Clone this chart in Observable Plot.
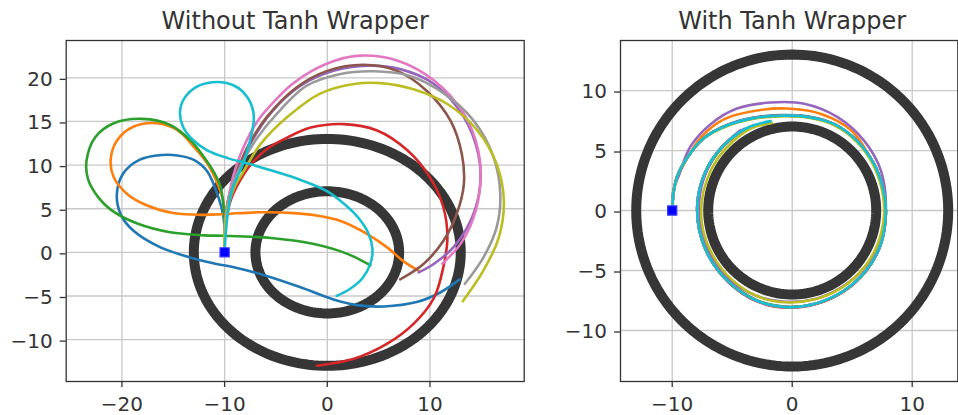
<!DOCTYPE html>
<html><head><meta charset="utf-8">
<script src="https://cdn.jsdelivr.net/npm/d3@7"></script>
<script src="https://cdn.jsdelivr.net/npm/@observablehq/plot@0.6"></script>
<style>
body{margin:0;background:#fff;}
#wrap{position:relative;width:958px;height:415px;overflow:hidden;background:#fff;}
#left{position:absolute;left:0;top:0;}
#right{position:absolute;left:530px;top:0;}
</style></head><body><div id="wrap"><div id="left"></div><div id="right"></div></div>
<script>
// ---- data ----
const titles = ["Without Tanh Wrapper", "With Tanh Wrapper"];
const palette = ["#1f77b4","#ff7f0e","#2ca02c","#d62728","#9467bd","#8c564b","#e377c2","#9a9a9a","#bcbd22","#17becf"];
const obstacleCenter = [0, 0];
const obstacleRadii = [7, 13];
const startPoint = [[-10, 0]];
const leftXTicks = [-20, -10, 0, 10];
const leftYTicks = [-10, -5, 0, 5, 10, 15, 20];
const rightXTicks = [-10, 0, 10];
const rightYTicks = [-10, -5, 0, 5, 10];
const leftXDomain = [-25.43, 19.18];
const leftYDomain = [-14.8, 24.28];
const rightXDomain = [-14.31, 13.8];
const rightYDomain = [-14.25, 14.17];

// Without tanh wrapper
const lBlue = [[-10,0],[-10,2],[-10.1,4],[-10.6,6.3],[-11.7,9.3],[-13,10.6],[-14.6,11.1],[-16.1,11.15],[-18.3,10.6],[-19.9,9],[-20.5,6.6],[-20.1,4.3],[-18.9,2.5],[-16.3,0.6],[-13,-0.7],[-10.9,-1.3],[-9.1,-1.7],[-5.9,-2.7],[-2.6,-4.0],[0.6,-5.4],[2.9,-6.05],[5.5,-6.2],[8.7,-5.7],[11,-4.6],[12.9,-3.1]];
const lOrange = [[-10,0],[-10,2.2],[-10,4.4],[-10.2,6.2],[-10.7,7.9],[-11.7,10.2],[-13,12.1],[-14.6,14],[-16.6,14.8],[-18.9,14.4],[-20.5,12.8],[-21.1,10.6],[-20.8,8.6],[-19.5,6.7],[-17.6,5.4],[-15,4.5],[-12,4.3],[-10,4.4],[-6.5,4.6],[-3.2,4.5],[-1.2,4.25],[1.3,3.6],[3.9,2.1],[5.8,0.6],[7.4,-1],[8.9,-2.1]];
const lGreen = [[-10,0],[-10,2.2],[-10.05,4.6],[-10.4,7.5],[-11,9.1],[-12,10.9],[-13.3,12.8],[-15.3,14.6],[-18,15.3],[-20.8,14.8],[-22.6,13.2],[-23.45,10.5],[-23.3,8.4],[-22.3,6.3],[-21.1,4.9],[-18.5,3.3],[-15.3,2.3],[-12,1.95],[-10,1.9],[-5.5,1.65],[-2.2,1.15],[1.1,0.2],[2.8,-0.6],[4.2,-1.5]];
const lRed = [[-10,0],[-10,2],[-9.8,4],[-9.4,6],[-8.8,7.6],[-7.5,10],[-5.8,11.9],[-4,13.1],[-1.6,14.3],[1.6,14.7],[4.8,14],[7.8,11.7],[10,8.6],[11.3,5.2],[11.7,1.7],[11.3,-1.7],[10.4,-5.2],[8.4,-8.2],[5.8,-10.5],[2.6,-12.2],[-1,-13.0]];
const lPurple = [[-10,0],[-10,2.5],[-9.8,5],[-9.4,7.2],[-8.8,9],[-7.6,12.2],[-5.55,15.9],[-2.6,19.1],[0.6,20.8],[3.9,21.4],[7.1,21],[10.4,19.3],[13.3,15.5],[14.7,11.3],[14.9,7.8],[14.1,4],[12.3,0.6],[10.4,-1.3],[8.9,-2.3]];
const lBrown = [[-10,0],[-10,2.5],[-9.8,5],[-9.4,7.2],[-9,8.6],[-7.8,12],[-5.9,15.5],[-3,18.9],[0,20.8],[3.5,21.5],[6.8,20.8],[9.7,18.5],[12,15.1],[13.1,11.3],[13.3,7.8],[12.6,4.4],[11.3,1.3],[9.4,-1.3],[7.1,-3.1]];
const lPink = [[-10,0],[-10,2.5],[-9.8,5],[-9.5,7],[-9.1,9],[-8.1,12.2],[-6.7,15.2],[-5,17.5],[-3.5,19.2],[-1.5,20.8],[0.8,22],[3.2,22.55],[6.8,22],[10.4,19.7],[13.3,15.9],[14.7,11.7],[14.9,7.8],[14.25,4],[13,1],[11.2,-1.3]];
const lGray = [[-10,0],[-10,2.5],[-9.8,5],[-9.3,7.5],[-8.4,10],[-6.9,13],[-4.9,15.9],[-2,19.1],[1.3,20.45],[4.5,20.75],[7.8,20.3],[11,18.5],[14.25,15.1],[16.2,10.9],[16.85,6.7],[16.5,2.9],[15.2,-0.6],[13.4,-3.6]];
const lOlive = [[-10,0],[-10,2.5],[-9.7,5],[-9.1,7.3],[-8.1,9.4],[-6.5,12.4],[-3.9,15.5],[-0.7,18.2],[2.6,19.3],[5.2,19.4],[8.4,18.7],[11.7,17],[14.6,14],[16.5,10.1],[17.2,5.9],[16.7,1.7],[15.2,-2.1],[13.2,-5.6]];
const lCyan = [[-10,0],[-9.9,2],[-9.7,4.4],[-9.3,7],[-8.1,10.5],[-7.4,13.4],[-7.15,15.3],[-7.3,16.6],[-7.8,17.8],[-8.6,18.8],[-9.8,19.4],[-11.2,19.5],[-12.7,19],[-13.9,17.7],[-14.35,16.1],[-14.05,14.4],[-13.1,12.9],[-11.7,11.7],[-9.7,10.8],[-7.8,10.2],[-5.5,9.4],[-2.6,8.3],[0,7],[1.6,5.6],[3,4],[4,2.2],[4.4,0.4],[4.2,-1.3],[3.4,-3],[2.2,-4.2],[0.9,-5.0]];

// With tanh wrapper
const rBlue = [[-10,0],[-9.9,1.4],[-9.6,2.8],[-8.75,4.4],[-7.4,6.0],[-5.4,7.15],[-3.2,7.75],[-1,7.95],[1.25,7.85],[3.5,7.2],[5.4,5.8],[6.8,3.9],[7.6,1.7],[7.8,-0.3],[7.35,-2.9],[6.2,-4.95],[4.3,-6.7],[2,-7.75],[-0.5,-8.05],[-3,-7.5],[-5.3,-5.95],[-6.9,-3.9],[-7.75,-1.6],[-7.9,0.6],[-7.45,2.7],[-6.5,4.5],[-5.2,5.95],[-4.0,6.8]];
const rOrange = [[-10,0],[-9.85,1.9],[-9.0,3.9],[-7.6,6.1],[-5.7,7.6],[-3.2,8.3],[-0.4,8.5],[2.4,8.05],[4.9,6.7],[6.5,4.4],[7.5,1.9],[7.75,-0.5],[7.3,-3],[6.1,-5.1],[4.2,-6.8],[1.9,-7.8],[-0.6,-8.05],[-3.1,-7.45],[-5.3,-5.9],[-6.85,-3.9],[-7.7,-1.6],[-7.85,0.6],[-7.4,2.7],[-6.4,4.55],[-5,6.0],[-3.6,6.9]];
const rGreen = [[-10,0],[-9.9,1.4],[-9.6,2.8],[-8.75,4.4],[-7.4,6.0],[-5.4,7.1],[-3.2,7.7],[-1,7.9],[1.25,7.8],[3.5,7.2],[5.4,5.8],[6.8,3.9],[7.6,1.7],[7.8,-0.3],[7.35,-2.9],[6.2,-4.95],[4.3,-6.7],[2,-7.75],[-0.5,-8.0],[-3,-7.45],[-5.3,-5.9],[-6.85,-3.9],[-7.7,-1.6],[-7.85,0.6],[-7.4,2.7],[-6.45,4.5],[-5.05,6.0],[-3.4,7.0]];
const rRed = [[-10,0],[-9.9,1.4],[-9.6,2.8],[-8.75,4.4],[-7.4,6.0],[-5.4,7.1],[-3.2,7.7],[-1,7.9],[1.25,7.8],[3.5,7.2],[5.4,5.8],[6.8,3.9],[7.6,1.7],[7.8,-0.3],[7.35,-2.9],[6.2,-5.0],[4.3,-6.75],[2,-7.8],[-0.5,-8.1],[-3,-7.55],[-5.3,-6.0],[-6.9,-3.9],[-7.75,-1.6],[-7.9,0.6],[-7.45,2.7],[-6.5,4.5],[-5.1,6.0],[-3.3,7.05]];
const rPurple = [[-10,0],[-9.9,1.7],[-9.4,3.05],[-8.5,5.3],[-6.8,7.2],[-4.6,8.5],[-1.8,9.0],[1,8.9],[3.75,7.8],[6,5.8],[7.4,3.3],[7.8,0],[7.3,-2.7],[6.0,-4.8],[4.1,-6.4],[1.8,-7.4],[-0.6,-7.6],[-3,-7.1],[-5.2,-5.75],[-6.7,-3.8],[-7.6,-1.5],[-7.75,0.8],[-7.25,3],[-6.2,4.9],[-5.0,6.1],[-4.3,6.7]];
const rBrown = [[-10,0],[-9.9,1.4],[-9.6,2.8],[-8.75,4.4],[-7.4,6.0],[-5.4,7.1],[-3.2,7.7],[-1,7.9],[1.25,7.8],[3.5,7.2],[5.4,5.8],[6.8,3.9],[7.6,1.7],[7.8,-0.3],[7.35,-2.9],[6.2,-4.95],[4.3,-6.7],[2,-7.75],[-0.5,-8.05],[-3,-7.5],[-5.3,-5.95],[-6.9,-3.9],[-7.75,-1.6],[-7.9,0.6],[-7.45,2.7],[-6.5,4.5],[-5.1,6.0],[-3.0,7.1]];
const rPink = [[-10,0],[-9.9,1.4],[-9.6,2.8],[-8.75,4.4],[-7.4,6.0],[-5.4,7.1],[-3.2,7.7],[-1,7.9],[1.25,7.8],[3.5,7.2],[5.4,5.8],[6.8,3.9],[7.6,1.7],[7.8,-0.3],[7.35,-2.9],[6.2,-4.95],[4.3,-6.7],[2,-7.75],[-0.5,-8.05],[-3,-7.5],[-5.3,-5.95],[-6.9,-3.9],[-7.75,-1.6],[-7.9,0.6],[-7.45,2.7],[-6.5,4.5],[-5.1,6.0],[-3.2,7.1]];
const rGray = [[-10,0],[-9.9,1.4],[-9.6,2.8],[-8.75,4.4],[-7.4,6.0],[-5.4,7.1],[-3.2,7.7],[-1,7.9],[1.25,7.8],[3.5,7.2],[5.4,5.8],[6.8,3.9],[7.6,1.7],[7.8,-0.3],[7.35,-2.9],[6.2,-4.95],[4.3,-6.7],[2,-7.75],[-0.5,-8.05],[-3,-7.5],[-5.3,-5.95],[-6.9,-3.9],[-7.75,-1.6],[-7.9,0.6],[-7.45,2.7],[-6.5,4.5],[-5.1,6.0],[-3.1,7.1]];
const rOlive = [[-10,0],[-9.9,1.4],[-9.6,2.8],[-8.75,4.4],[-7.4,6.0],[-5.4,7.05],[-3.2,7.65],[-1,7.85],[1.25,7.75],[3.5,7.1],[5.4,5.7],[6.75,3.8],[7.5,1.6],[7.65,-0.4],[7.1,-2.85],[5.95,-4.8],[4.1,-6.45],[1.9,-7.4],[-0.5,-7.65],[-2.9,-7.15],[-5.1,-5.7],[-6.6,-3.75],[-7.45,-1.55],[-7.55,0.6],[-7.1,2.6],[-6.2,4.35],[-4.9,5.8],[-3.4,6.85],[-1.7,7.3]];
const rCyan = [[-10,0],[-9.9,1.4],[-9.6,2.8],[-8.75,4.4],[-7.4,6.0],[-5.4,7.1],[-3.2,7.7],[-1,7.9],[1.25,7.8],[3.5,7.2],[5.4,5.8],[6.8,3.9],[7.6,1.7],[7.8,-0.3],[7.35,-2.9],[6.2,-4.95],[4.3,-6.7],[2,-7.75],[-0.5,-8.05],[-3,-7.5],[-5.3,-5.95],[-6.9,-3.9],[-7.75,-1.6],[-7.9,0.6],[-7.45,2.7],[-6.5,4.5],[-5.1,6.0],[-3.5,7.0],[-1.8,7.45]];

const leftSeries = [lBlue, lOrange, lGreen, lRed, lPurple, lBrown, lPink, lGray, lOlive, lCyan];
const rightSeries = [rBlue, rOrange, rGreen, rRed, rPurple, rBrown, rPink, rGray, rOlive, rCyan];

// ---- helpers ----
const ink = "#333333";
const fmt = d => d < 0 ? "\u2212" + Math.abs(d) : String(d);
function ringPoints(r) {
  return d3.range(0, 361, 2).map(a => [obstacleCenter[0] + r * Math.cos(a * Math.PI / 180), obstacleCenter[1] + r * Math.sin(a * Math.PI / 180)]);
}

function panel({title, series, xDomain, yDomain, xTicks, yTicks, width, marginLeft, marginRight, titleDx, lineWidth}) {
  const marks = [
    Plot.gridX(xTicks, {stroke: "#c8c8c8", strokeOpacity: 1, strokeWidth: 1.3}),
    Plot.gridY(yTicks, {stroke: "#c8c8c8", strokeOpacity: 1, strokeWidth: 1.3}),
    ...obstacleRadii.map(r => Plot.line(ringPoints(r), {x: d => d[0], y: d => d[1], stroke: "#363636", strokeWidth: 10, curve: "linear"})),
    ...series.map((s, i) => Plot.line(s, {x: d => d[0], y: d => d[1], stroke: palette[i], strokeWidth: lineWidth, curve: "catmull-rom"})),
    Plot.dot(startPoint, {x: d => d[0], y: d => d[1], symbol: "square", r: 5.2, fill: "#0000ff", stroke: "#3b3bff", strokeWidth: 1.2}),
    Plot.frame({stroke: ink, strokeWidth: 1.3}),
    Plot.axisX(xTicks, {tickSize: 6, tickPadding: 9, fontSize: 20, tickFormat: fmt, stroke: ink, strokeWidth: 1.3, fill: ink}),
    Plot.axisY(yTicks, {tickSize: 6, tickPadding: 7.5, fontSize: 20, tickFormat: fmt, stroke: ink, strokeWidth: 1.3, fill: ink, dy: 1.5}),
    Plot.text([title], {frameAnchor: "top", lineAnchor: "bottom", dy: -11.5, dx: titleDx, fontSize: 24, fill: ink})
  ];
  return Plot.plot({
    width, height: 415,
    marginLeft, marginRight, marginTop: 40, marginBottom: 34,
    x: {domain: xDomain},
    y: {domain: yDomain},
    style: {fontFamily: "DejaVu Sans", fontSize: "20px", color: ink, background: "white", overflow: "visible"},
    marks
  });
}

document.getElementById("left").appendChild(panel({
  title: titles[0], series: leftSeries, xDomain: leftXDomain, yDomain: leftYDomain,
  xTicks: leftXTicks, yTicks: leftYTicks, width: 530, marginLeft: 65.7, marginRight: 6.3, titleDx: 0, lineWidth: 2.6
}));
document.getElementById("right").appendChild(panel({
  title: titles[1], series: rightSeries, xDomain: rightXDomain, yDomain: rightYDomain,
  xTicks: rightXTicks, yTicks: rightYTicks, width: 428, marginLeft: 90, marginRight: 0.7, titleDx: 3, lineWidth: 2.6
}));
</script></body></html>
